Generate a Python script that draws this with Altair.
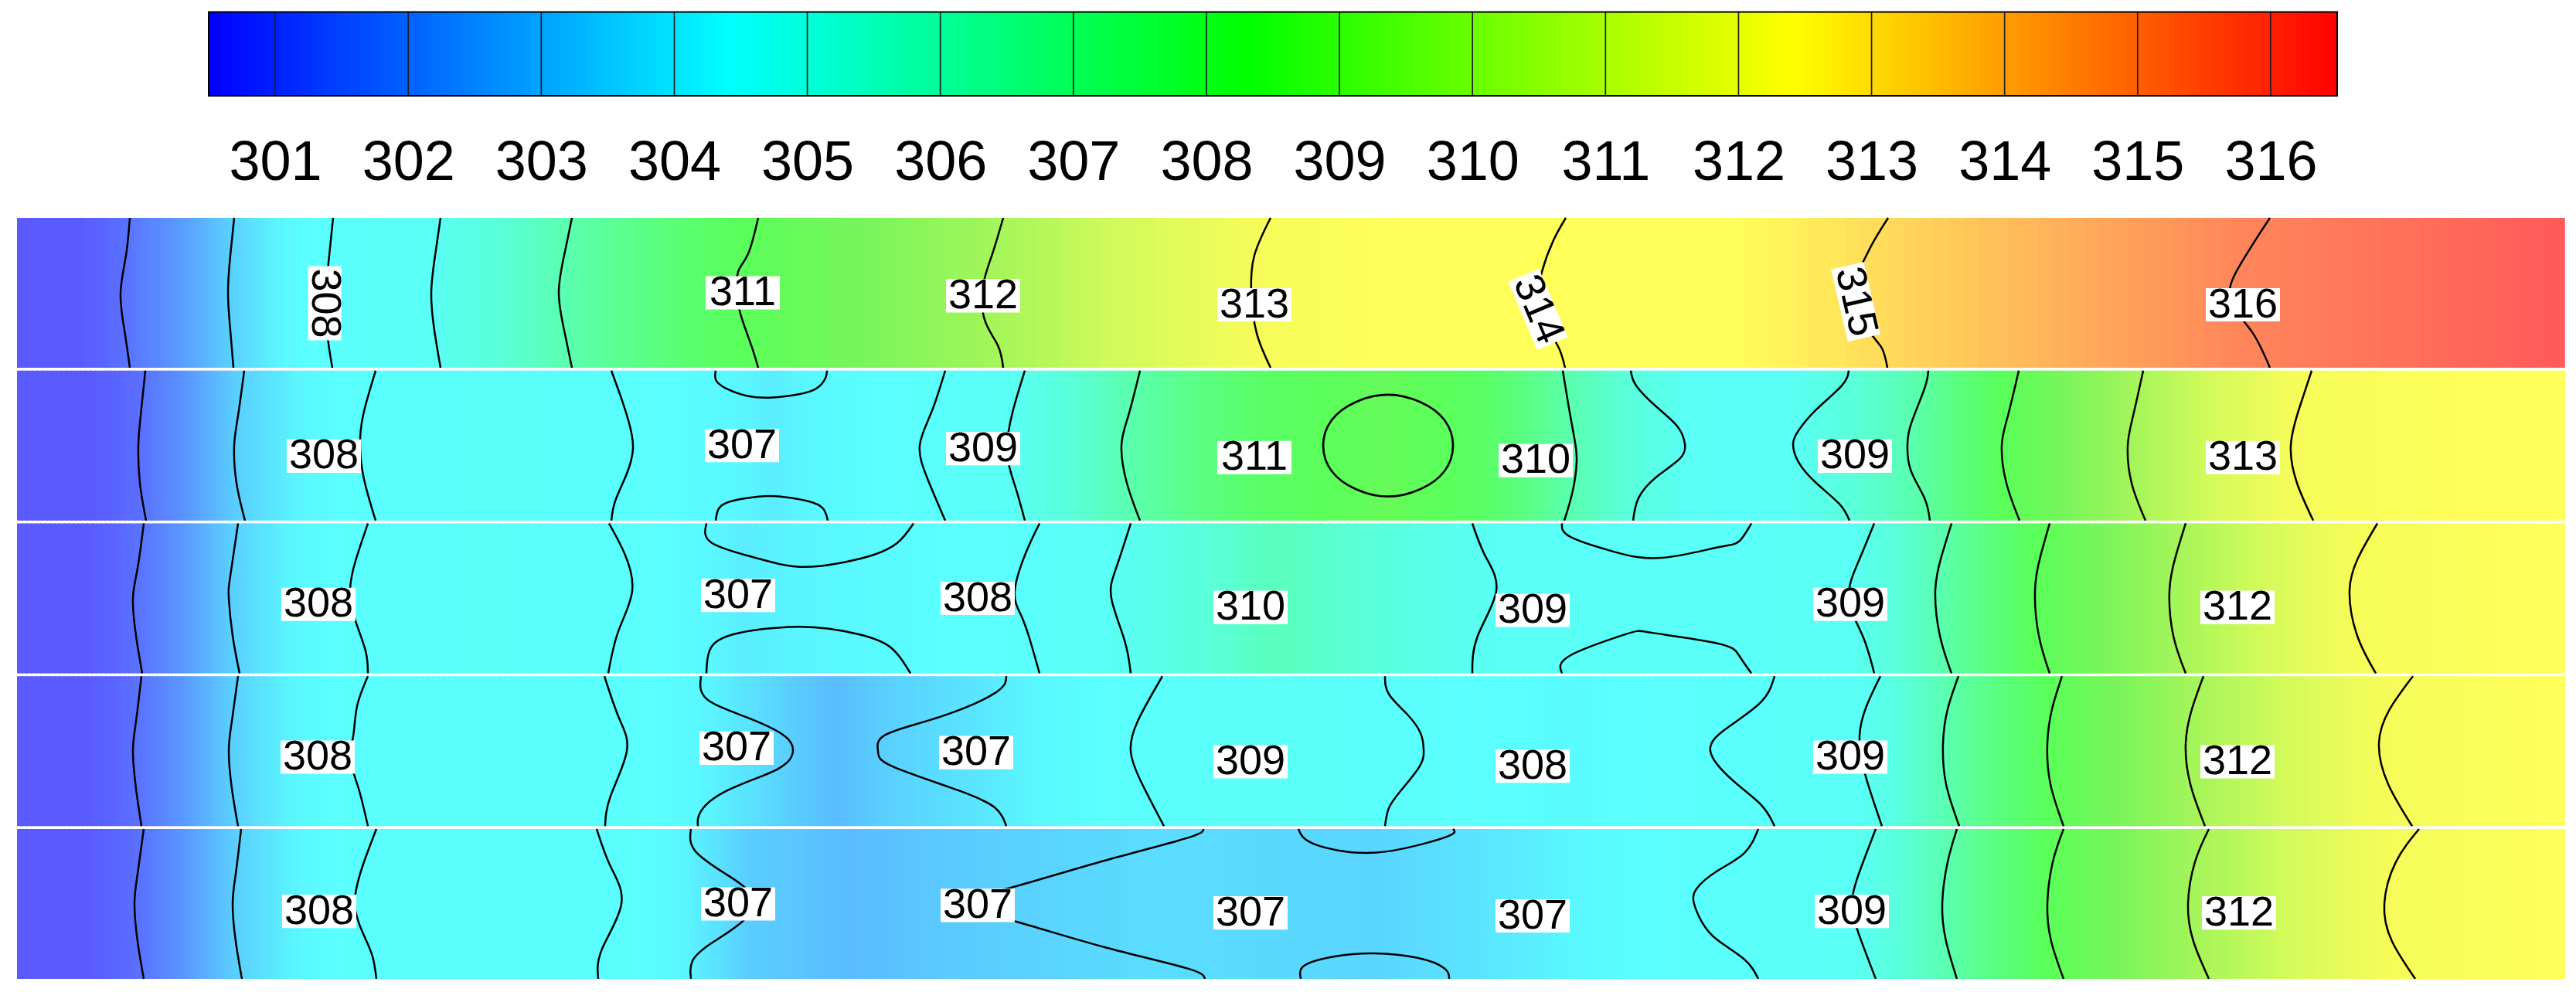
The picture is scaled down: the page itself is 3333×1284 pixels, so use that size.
import altair as alt
import pandas as pd

# ---------------- colour bar ----------------
cb_ticks = list(range(301, 317))
cb_lo, cb_hi = 300.5, 316.5
cb_stops = [300.5, 304.4, 308.3, 312.4, 316.5]
cb_colors = ["#0000ff", "#00ffff", "#00ff00", "#ffff00", "#ff0000"]

# ---------------- strip colour map (as seen in the strips) ----------------
strip_stops = [305.6, 306.0, 306.5, 307.0, 307.5, 307.8, 309.0, 309.5, 310.0, 310.5, 311.0,
               311.5, 312.0, 312.5, 313.0, 313.5, 314.6, 315.0, 315.5, 316.0, 316.9]
strip_colors = ["#5a5aff", "#5a6eff", "#5a96ff", "#5acdff", "#5af5ff", "#5affff", "#5afff5",
                "#5affdc", "#5affb4", "#5aff82", "#5aff5a", "#78f55a", "#a0f55a", "#d2fa5a",
                "#f5fc5a", "#ffff5a", "#ffff5a", "#ffe15a", "#ffb45a", "#ff875a", "#ff5a5a"]

# ---------------- temperature profiles along each strip (position, value) ----------------
s1_pos = [22, 156, 295, 422, 558, 723, 956, 1273, 1619, 1992, 2404, 2890, 3318]
s1_val = [305.0, 306, 307, 308, 309, 310, 311, 312, 313, 314, 315, 316, 316.9]
s2_pos = [22, 179, 303, 468, 640, 819, 998, 1190, 1305, 1451, 1620, 1796, 1930, 2040, 2180, 2250, 2320, 2468, 2590, 2753, 2964, 3318]
s2_val = [305.0, 306, 307, 308, 308.5, 308, 307.4, 308, 309, 310, 310.8, 311.2, 310.8, 310, 309, 308.7, 309, 310, 311, 312, 313, 313.7]
s3_pos = [22, 172, 296, 453, 630, 818, 960, 1100, 1313, 1438, 1650, 1936, 2150, 2392, 2504, 2633, 2807, 3040, 3318]
s3_val = [305.0, 306, 307, 308, 308.4, 308, 307.4, 307.6, 308, 309, 309.9, 309, 308.6, 309, 310, 311, 312, 313, 313.6]
s4_pos = [22, 172, 296, 453, 630, 811, 1026, 1080, 1136, 1300, 1463, 1650, 1842, 2030, 2213, 2410, 2514, 2649, 2828, 3078, 3318]
s4_val = [305.0, 306, 307, 308, 308.3, 308, 307, 306.85, 307, 307.4, 308, 308.8, 308, 307.7, 308, 309, 310, 311, 312, 313, 313.5]
s5_pos = [22, 174, 301, 459, 620, 804, 971, 1100, 1253, 1500, 1780, 1980, 2192, 2396, 2513, 2649, 2831, 3085, 3318]
s5_val = [305.0, 306, 307, 308, 308.3, 308, 307, 306.85, 307, 307.2, 307.1, 307.4, 308, 309, 310, 311, 312, 313, 313.5]

# ---------------- contour lines: (position, fraction of strip height from top) ----------------
s1_lines = [
    [(168, 0), (163, 0.25), (156, 0.5), (161, 0.75), (168, 1)],
    [(303, 0), (298, 0.25), (295, 0.5), (298, 0.75), (302, 1)],
    [(431, 0), (425, 0.3), (422, 0.5), (423, 0.75), (430, 1)],
    [(570, 0), (563, 0.25), (558, 0.5), (562, 0.75), (570, 1)],
    [(740, 0), (730, 0.25), (723, 0.5), (730, 0.75), (740, 1)],
    [(981, 0), (968, 0.24), (955, 0.36), (954, 0.5), (958, 0.64), (972, 0.85), (981, 1)],
    [(1298, 0), (1284, 0.24), (1272, 0.45), (1274, 0.68), (1291, 0.85), (1298, 1)],
    [(1644, 0), (1623, 0.25), (1619, 0.5), (1626, 0.77), (1644, 1)],
    [(2026, 0), (2010, 0.15), (1995, 0.36), (1992, 0.55), (2005, 0.75), (2018, 0.88), (2025, 1)],
    [(2443, 0), (2425, 0.15), (2410, 0.3), (2400, 0.5), (2418, 0.75), (2435, 0.87), (2442, 1)],
    [(2937, 0), (2918, 0.15), (2900, 0.3), (2886, 0.45), (2890, 0.6), (2915, 0.77), (2937, 1)],
]
s2_lines = [
    [(188, 0), (182, 0.3), (179, 0.5), (181, 0.75), (189, 1)],
    [(316, 0), (308, 0.3), (303, 0.5), (306, 0.75), (317, 1)],
    [(486, 0), (472, 0.25), (466, 0.45), (470, 0.7), (486, 1)],
    [(791, 0), (805, 0.2), (814, 0.35), (819, 0.52), (810, 0.7), (796, 0.87), (791, 1)],
    [(926, 0), (927, 0.07), (944, 0.13), (968, 0.17), (996, 0.18), (1031, 0.16), (1056, 0.12), (1068, 0.05), (1070, 0)],
    [(926, 1), (930, 0.92), (947, 0.87), (982, 0.84), (1010, 0.84), (1045, 0.87), (1065, 0.92), (1071, 1)],
    [(1223, 0), (1205, 0.28), (1190, 0.5), (1200, 0.72), (1223, 1)],
    [(1326, 0), (1310, 0.28), (1303, 0.55), (1314, 0.78), (1326, 1)],
    [(1475, 0), (1460, 0.3), (1451, 0.5), (1458, 0.75), (1475, 1)],
    [(2022, 0), (2030, 0.25), (2037, 0.45), (2040, 0.6), (2035, 0.8), (2024, 1)],
    [(2110, 0), (2117, 0.10), (2143, 0.24), (2170, 0.37), (2180, 0.49), (2173, 0.59), (2143, 0.71), (2120, 0.85), (2113, 1)],
    [(2392, 0), (2383, 0.10), (2350, 0.26), (2327, 0.40), (2320, 0.49), (2327, 0.61), (2350, 0.75), (2380, 0.89), (2393, 1)],
    [(2495, 0), (2490, 0.12), (2473, 0.35), (2468, 0.49), (2472, 0.66), (2490, 0.85), (2497, 1)],
    [(2612, 0), (2598, 0.3), (2590, 0.5), (2596, 0.75), (2613, 1)],
    [(2773, 0), (2760, 0.3), (2753, 0.5), (2758, 0.75), (2776, 1)],
    [(2991, 0), (2975, 0.25), (2964, 0.5), (2972, 0.75), (2993, 1)],
]
s2_circle = [(1880, 0.50), (1869, 0.67), (1838, 0.79), (1796, 0.84), (1754, 0.79), (1723, 0.67),
             (1712, 0.50), (1723, 0.33), (1754, 0.21), (1796, 0.16), (1838, 0.21), (1869, 0.33)]
s3_lines = [
    [(186, 0), (178, 0.3), (172, 0.5), (176, 0.75), (184, 1)],
    [(308, 0), (298, 0.35), (296, 0.5), (301, 0.75), (310, 1)],
    [(476, 0), (460, 0.25), (453, 0.45), (460, 0.65), (473, 0.85), (476, 1)],
    [(788, 0), (808, 0.2), (818, 0.45), (800, 0.72), (787, 1)],
    [(914, 0), (921, 0.13), (978, 0.23), (1035, 0.29), (1091, 0.26), (1130, 0.21), (1161, 0.13), (1182, 0)],
    [(914, 1), (918, 0.85), (949, 0.74), (1035, 0.69), (1111, 0.74), (1153, 0.83), (1178, 1)],
    [(1345, 0), (1327, 0.2), (1313, 0.45), (1320, 0.6), (1331, 0.75), (1345, 1)],
    [(1463, 0), (1444, 0.3), (1438, 0.5), (1455, 0.78), (1463, 1)],
    [(1905, 0), (1922, 0.22), (1936, 0.45), (1912, 0.75), (1905, 1)],
    [(2021, 0), (2032, 0.09), (2089, 0.19), (2150, 0.23), (2222, 0.16), (2250, 0.12), (2266, 0)],
    [(2021, 1), (2032, 0.88), (2103, 0.74), (2138, 0.73), (2222, 0.80), (2250, 0.88), (2266, 1)],
    [(2425, 0), (2405, 0.25), (2392, 0.5), (2410, 0.75), (2425, 1)],
    [(2525, 0), (2512, 0.22), (2504, 0.45), (2510, 0.75), (2525, 1)],
    [(2652, 0), (2640, 0.22), (2633, 0.45), (2638, 0.75), (2652, 1)],
    [(2828, 0), (2815, 0.22), (2807, 0.45), (2812, 0.75), (2828, 1)],
    [(3076, 0), (3052, 0.22), (3040, 0.45), (3050, 0.75), (3074, 1)],
]
s4_lines = [
    [(183, 0), (176, 0.3), (172, 0.5), (176, 0.75), (183, 1)],
    [(308, 0), (300, 0.3), (296, 0.5), (300, 0.75), (308, 1)],
    [(476, 0), (462, 0.2), (457, 0.4), (453, 0.55), (464, 0.75), (476, 1)],
    [(782, 0), (801, 0.28), (811, 0.5), (790, 0.8), (783, 1)],
    [(907, 0), (914, 0.15), (964, 0.27), (1013, 0.39), (1026, 0.50), (1006, 0.62), (942, 0.76), (907, 0.90), (903, 1)],
    [(1302, 0), (1288, 0.11), (1217, 0.27), (1146, 0.39), (1136, 0.50), (1154, 0.60), (1239, 0.76), (1288, 0.88), (1302, 1)],
    [(1504, 0), (1472, 0.3), (1463, 0.5), (1476, 0.7), (1506, 1)],
    [(1792, 0), (1797, 0.12), (1820, 0.25), (1838, 0.38), (1842, 0.49), (1837, 0.60), (1813, 0.76), (1797, 0.88), (1792, 1)],
    [(2296, 0), (2279, 0.17), (2236, 0.34), (2213, 0.50), (2243, 0.70), (2279, 0.86), (2296, 1)],
    [(2433, 0), (2415, 0.2), (2406, 0.4), (2413, 0.65), (2435, 1)],
    [(2534, 0), (2520, 0.22), (2514, 0.45), (2518, 0.72), (2535, 1)],
    [(2668, 0), (2655, 0.22), (2649, 0.45), (2653, 0.72), (2670, 1)],
    [(2851, 0), (2836, 0.22), (2828, 0.45), (2834, 0.72), (2853, 1)],
    [(3122, 0), (3092, 0.22), (3078, 0.45), (3090, 0.72), (3121, 1)],
]
s5_lines = [
    [(186, 0), (178, 0.3), (174, 0.5), (178, 0.75), (186, 1)],
    [(312, 0), (305, 0.3), (301, 0.5), (305, 0.75), (313, 1)],
    [(487, 0), (469, 0.25), (459, 0.5), (470, 0.7), (482, 0.85), (487, 1)],
    [(772, 0), (790, 0.25), (804, 0.5), (779, 0.8), (774, 1)],
    [(894, 0), (900, 0.15), (942, 0.31), (971, 0.44), (964, 0.6), (921, 0.76), (896, 0.88), (894, 1)],
    [(1557, 0), (1536, 0.06), (1430, 0.21), (1316, 0.38), (1253, 0.50), (1316, 0.62), (1430, 0.79), (1536, 0.93), (1559, 1)],
    [(1680, 0), (1700, 0.10), (1767, 0.16), (1833, 0.11), (1877, 0.04), (1880, 0)],
    [(1683, 1), (1688, 0.91), (1727, 0.85), (1777, 0.83), (1834, 0.86), (1869, 0.93), (1875, 1)],
    [(2275, 0), (2257, 0.16), (2222, 0.28), (2195, 0.40), (2192, 0.5), (2202, 0.62), (2222, 0.74), (2257, 0.87), (2275, 1)],
    [(2427, 0), (2405, 0.3), (2396, 0.5), (2405, 0.7), (2427, 1)],
    [(2532, 0), (2520, 0.22), (2513, 0.5), (2518, 0.75), (2532, 1)],
    [(2670, 0), (2656, 0.22), (2649, 0.5), (2654, 0.75), (2670, 1)],
    [(2858, 0), (2840, 0.22), (2831, 0.5), (2838, 0.75), (2858, 1)],
    [(3130, 0), (3100, 0.22), (3085, 0.5), (3095, 0.75), (3125, 1)],
]

# ---------------- contour labels: (text, position, fraction, angle) ----------------
s1_labels = [("308", 420, 0.57, 90), ("311", 961, 0.50, 0), ("312", 1272, 0.52, 0), ("313", 1623, 0.58, 0),
             ("314", 1990, 0.61, 67), ("315", 2401, 0.56, 77), ("316", 2902, 0.58, 0)]
s2_labels = [("308", 419, 0.57, 0), ("307", 960, 0.50, 0), ("309", 1272, 0.52, 0), ("311", 1623, 0.58, 0),
             ("310", 1987, 0.60, 0), ("309", 2400, 0.57, 0), ("313", 2902, 0.58, 0)]
s3_labels = [("308", 412, 0.54, 0), ("307", 955, 0.48, 0), ("308", 1265, 0.50, 0), ("310", 1618, 0.56, 0),
             ("309", 1983, 0.58, 0), ("309", 2394, 0.54, 0), ("312", 2895, 0.56, 0)]
s4_labels = [("308", 411, 0.54, 0), ("307", 953, 0.48, 0), ("307", 1263, 0.51, 0), ("309", 1618, 0.57, 0),
             ("308", 1983, 0.60, 0), ("309", 2394, 0.54, 0), ("312", 2895, 0.57, 0)]
s5_labels = [("308", 413, 0.55, 0), ("307", 955, 0.50, 0), ("307", 1265, 0.51, 0), ("307", 1618, 0.56, 0),
             ("307", 1983, 0.58, 0), ("309", 2396, 0.55, 0), ("312", 2897, 0.56, 0)]

# ---------------- build tables ----------------
profiles = [(s1_pos, s1_val), (s2_pos, s2_val), (s3_pos, s3_val), (s4_pos, s4_val), (s5_pos, s5_val)]
seg_rows = []
for k, (pos, val) in enumerate(profiles):
    for i in range(len(pos) - 1):
        seg_rows.append(dict(strip=k, x0=pos[i], x1=pos[i + 1], t0=val[i], t1=val[i + 1]))
seg_df = pd.DataFrame(seg_rows)

line_rows = []
for k, lines in enumerate([s1_lines, s2_lines, s3_lines, s4_lines, s5_lines]):
    for j, ln in enumerate(lines):
        for i, (x, f) in enumerate(ln):
            line_rows.append(dict(strip=k, lid=f"{k}-{j}", idx=i, x=x, f=f))
line_df = pd.DataFrame(line_rows)
circ_df = pd.DataFrame([dict(strip=1, lid="c", idx=i, x=x, f=f) for i, (x, f) in enumerate(s2_circle)])

lab_rows = []
for k, labs in enumerate([s1_labels, s2_labels, s3_labels, s4_labels, s5_labels]):
    for (t, x, f, a) in labs:
        lab_rows.append(dict(strip=k, label=t, x=x, f=f, angle=a))
lab_df = pd.DataFrame(lab_rows)

tick_df = pd.DataFrame({"tick": cb_ticks})
frame_df = pd.DataFrame({"a": [cb_lo], "b": [cb_hi]})

# ---------------- layout ----------------
W, H = 3317, 1268
PITCH = 1.0193
xs = alt.Scale(domain=[22, 3318], range=[14, 3310])
ys = alt.Scale(domain=[0, 4 * PITCH + 1], range=[274, 1259])
cbx = alt.Scale(domain=[cb_lo, cb_hi], range=[262, 3016])
cby = alt.Scale(domain=[0, 1], range=[7.5, 116])
FONT = "Liberation Sans"
ycalc = f"datum.strip*{PITCH}+datum.f"

# colour bar gradient
grad = alt.Chart(alt.sequence(cb_lo, cb_hi, 0.02, as_="v")).transform_calculate(
    v2=f"min(datum.v + 0.03, {cb_hi})", y0="0", y1="1"
).mark_rect().encode(
    x=alt.X("v:Q", scale=cbx, axis=None),
    x2="v2:Q",
    y=alt.Y("y0:Q", scale=cby, axis=None),
    y2="y1:Q",
    color=alt.Color("v:Q", scale=alt.Scale(domain=cb_stops, range=cb_colors, interpolate="rgb"), legend=None),
)

dividers = alt.Chart(tick_df).transform_calculate(y0="0", y1="1").mark_rule(
    color="#1e1e28", strokeWidth=1.7
).encode(
    x=alt.X("tick:Q", scale=cbx, axis=alt.Axis(
        values=cb_ticks, orient="bottom", offset=-(H - 116), labelFontSize=72, labelFont=FONT,
        labelColor="black", ticks=False, tickSize=0, domain=False, grid=False, labelPadding=51,
        title=None, format="d", labelFlush=False, labelOverlap=False)),
    y=alt.Y("y0:Q", scale=cby, axis=None),
    y2="y1:Q",
)

frame = alt.Chart(frame_df).transform_calculate(y0="0", y1="1").mark_rect(
    filled=False, stroke="black", strokeWidth=2
).encode(
    x=alt.X("a:Q", scale=cbx, axis=None),
    x2="b:Q",
    y=alt.Y("y0:Q", scale=cby, axis=None),
    y2="y1:Q",
)

# strips: temperature field
field = alt.Chart(seg_df).transform_calculate(
    s="sequence(0, 1, 0.04)"
).transform_flatten(["s"]).transform_calculate(
    xa="datum.x0 + datum.s*(datum.x1-datum.x0)",
    xb="min(datum.x0 + (datum.s+0.055)*(datum.x1-datum.x0), datum.x1 + 0.8)",
    t="datum.t0 + (datum.s+0.02)*(datum.t1-datum.t0)",
    ya=f"datum.strip*{PITCH}",
    yb=f"datum.strip*{PITCH}+1",
).mark_rect().encode(
    x=alt.X("xa:Q", scale=xs, axis=None),
    x2="xb:Q",
    y=alt.Y("ya:Q", scale=ys, axis=None),
    y2="yb:Q",
    color=alt.Color("t:Q", scale=alt.Scale(domain=strip_stops, range=strip_colors,
                                           interpolate="rgb", clamp=True), legend=None),
)

contours = alt.Chart(line_df).transform_calculate(Y=ycalc).mark_line(
    color="black", strokeWidth=2.5, interpolate="natural"
).encode(
    x=alt.X("x:Q", scale=xs, axis=None),
    y=alt.Y("Y:Q", scale=ys, axis=None),
    detail="lid:N",
    order="idx:Q",
)

circle = alt.Chart(circ_df).transform_calculate(Y=ycalc).mark_line(
    color="black", strokeWidth=2.7, interpolate="cardinal-closed"
).encode(
    x=alt.X("x:Q", scale=xs, axis=None),
    y=alt.Y("Y:Q", scale=ys, axis=None),
    detail="lid:N",
    order="idx:Q",
)

box_path = "M-1,-0.45L1,-0.45L1,0.45L-1,0.45Z"
boxes = alt.Chart(lab_df).transform_calculate(Y=ycalc).mark_point(
    shape=box_path, filled=True, color="white", opacity=1, size=96 * 96, strokeWidth=0
).encode(
    x=alt.X("x:Q", scale=xs, axis=None),
    y=alt.Y("Y:Q", scale=ys, axis=None),
    angle=alt.Angle("angle:Q", scale=None),
)

texts = alt.Chart(lab_df).transform_calculate(Y=ycalc).mark_text(
    font=FONT, fontSize=54, color="black", baseline="middle", align="center"
).encode(
    x=alt.X("x:Q", scale=xs, axis=None),
    y=alt.Y("Y:Q", scale=ys, axis=None),
    text="label:N",
    angle=alt.Angle("angle:Q", scale=None),
)

chart = alt.layer(grad, dividers, frame, field, contours, circle, boxes, texts).resolve_scale(
    x="independent", y="independent", color="independent"
).properties(
    width=W, height=H, autosize=alt.AutoSizeParams(type="none"), padding=0, background="white"
).configure_view(stroke=None)

chart.save("out.html", embed_options={"renderer": "svg", "actions": False})
